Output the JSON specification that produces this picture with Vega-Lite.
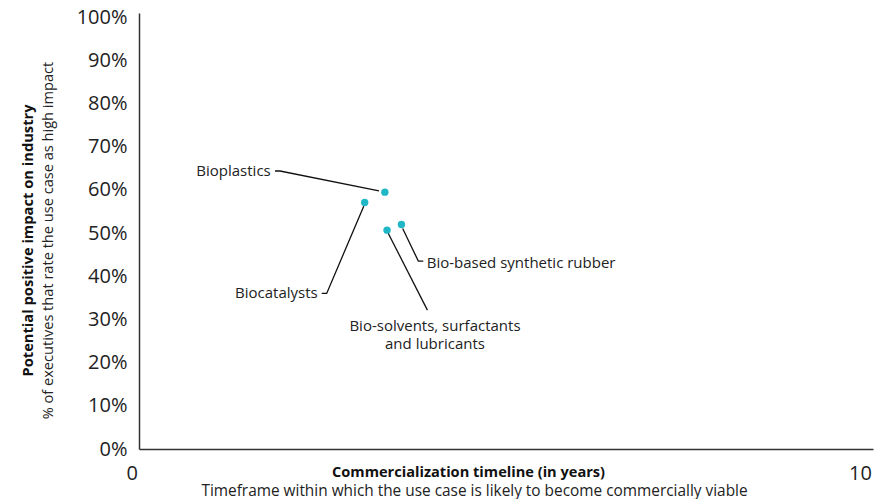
{
  "$schema": "https://vega.github.io/schema/vega-lite/v6.json",
  "autosize": {"type": "none"},
  "padding": {"left": 139, "top": 13, "right": 22, "bottom": 50},
  "width": 734,
  "height": 436,
  "background": "white",
  "config": {
    "view": {"stroke": null},
    "font": "Open Sans",
    "text": {"font": "Open Sans", "color": "#222222"}
  },
  "datasets": {
    "points": [
      {"name": "Bioplastics", "years": 3.41, "impact": 0.595},
      {"name": "Biocatalysts", "years": 3.13, "impact": 0.571},
      {"name": "Bio-solvents, surfactants and lubricants", "years": 3.44, "impact": 0.507},
      {"name": "Bio-based synthetic rubber", "years": 3.64, "impact": 0.52}
    ],
    "leaders": [
      {"id": "Bioplastics", "ord": 1, "years": 1.886, "impact": 0.644},
      {"id": "Bioplastics", "ord": 2, "years": 1.956, "impact": 0.644},
      {"id": "Bioplastics", "ord": 3, "years": 3.329, "impact": 0.598},
      {"id": "Biocatalysts", "ord": 1, "years": 3.117, "impact": 0.5625},
      {"id": "Biocatalysts", "ord": 2, "years": 2.603, "impact": 0.3604},
      {"id": "Biocatalysts", "ord": 3, "years": 2.534, "impact": 0.3604},
      {"id": "Rubber", "ord": 1, "years": 3.657, "impact": 0.511},
      {"id": "Rubber", "ord": 2, "years": 3.874, "impact": 0.4352},
      {"id": "Rubber", "ord": 3, "years": 3.943, "impact": 0.4352},
      {"id": "Solvents", "ord": 1, "years": 3.458, "impact": 0.4993},
      {"id": "Solvents", "ord": 2, "years": 4.0, "impact": 0.3218}
    ],
    "labels": [
      {"label": "Bioplastics", "side": "right", "years": 1.827, "impact": 0.644},
      {"label": "Biocatalysts", "side": "right", "years": 2.478, "impact": 0.3604},
      {"label": "Bio-based synthetic rubber", "side": "left", "years": 3.99, "impact": 0.432},
      {"label": "Bio-solvents, surfactants", "side": "center", "years": 4.105, "impact": 0.2847},
      {"label": "and lubricants", "side": "center", "years": 4.105, "impact": 0.2424}
    ]
  },
  "resolve": {"axis": {"x": "independent", "y": "independent"}},
  "layer": [
    {
      "data": {"name": "points"},
      "mark": {"type": "circle", "size": 55, "opacity": 1, "color": "#20b7c7"},
      "encoding": {
        "x": {
          "field": "years", "type": "quantitative",
          "scale": {"domain": [0, 10.18], "nice": false, "zero": true},
          "axis": {
            "orient": "bottom", "values": [0, 10], "format": "d", "grid": false,
            "ticks": false, "domainColor": "#333333", "domainWidth": 1.5,
            "labelFontSize": 20, "labelColor": "#222222", "labelPadding": 14, "labelFont": "Open Sans",
            "labelOffset": {"condition": {"test": "datum.value === 0", "value": -13}, "value": 0},
            "title": "Commercialization timeline (in years)",
            "titleFont": "Open Sans", "titleFontSize": 14.6, "titleFontWeight": "bold", "titleColor": "#111111",
            "titleX": 329, "titleY": 23, "titleAlign": "center", "titleBaseline": "middle"
          }
        },
        "y": {
          "field": "impact", "type": "quantitative",
          "scale": {"domain": [0, 1.01], "nice": false},
          "axis": {
            "orient": "left", "values": [0, 0.1, 0.2, 0.3, 0.4, 0.5, 0.6, 0.7, 0.8, 0.9, 1.0],
            "format": ".0%", "grid": false, "ticks": false,
            "domainColor": "#333333", "domainWidth": 1.5,
            "labelFontSize": 20, "labelColor": "#222222", "labelPadding": 12, "labelFont": "Open Sans",
            "title": "Potential positive impact on industry",
            "titleFont": "Open Sans", "titleFontSize": 14.7, "titleFontWeight": "bold", "titleColor": "#111111",
            "titleAngle": -90, "titleX": -111, "titleY": 227, "titleAlign": "center", "titleBaseline": "middle"
          }
        }
      }
    },
    {
      "data": {"name": "leaders"},
      "mark": {"type": "line", "color": "#111111", "strokeWidth": 1.3},
      "encoding": {
        "x": {
          "field": "years", "type": "quantitative",
          "axis": {
            "orient": "bottom", "labels": false, "ticks": false, "domain": false, "grid": false,
            "title": "Timeframe within which the use case is likely to become commercially viable",
            "titleFont": "Open Sans", "titleFontSize": 15.4, "titleFontWeight": "normal", "titleColor": "#222222",
            "titleX": 335, "titleY": 41, "titleAlign": "center", "titleBaseline": "middle"
          }
        },
        "y": {
          "field": "impact", "type": "quantitative",
          "axis": {
            "orient": "left", "labels": false, "ticks": false, "domain": false, "grid": false,
            "title": "% of executives that rate the use case as high impact",
            "titleFont": "Open Sans", "titleFontSize": 14.6, "titleFontWeight": "normal", "titleColor": "#222222",
            "titleAngle": -90, "titleX": -91, "titleY": 227, "titleAlign": "center", "titleBaseline": "middle"
          }
        },
        "detail": {"field": "id"},
        "order": {"field": "ord", "type": "quantitative"}
      }
    },
    {
      "data": {"name": "labels"},
      "transform": [{"filter": "datum.side === 'right'"}],
      "mark": {"type": "text", "align": "right", "baseline": "middle", "fontSize": 15},
      "encoding": {
        "x": {"field": "years", "type": "quantitative", "axis": null},
        "y": {"field": "impact", "type": "quantitative", "axis": null},
        "text": {"field": "label"}
      }
    },
    {
      "data": {"name": "labels"},
      "transform": [{"filter": "datum.side === 'left'"}],
      "mark": {"type": "text", "align": "left", "baseline": "middle", "fontSize": 15},
      "encoding": {
        "x": {"field": "years", "type": "quantitative", "axis": null},
        "y": {"field": "impact", "type": "quantitative", "axis": null},
        "text": {"field": "label"}
      }
    },
    {
      "data": {"name": "labels"},
      "transform": [{"filter": "datum.side === 'center'"}],
      "mark": {"type": "text", "align": "center", "baseline": "middle", "fontSize": 15},
      "encoding": {
        "x": {"field": "years", "type": "quantitative", "axis": null},
        "y": {"field": "impact", "type": "quantitative", "axis": null},
        "text": {"field": "label"}
      }
    }
  ]
}
